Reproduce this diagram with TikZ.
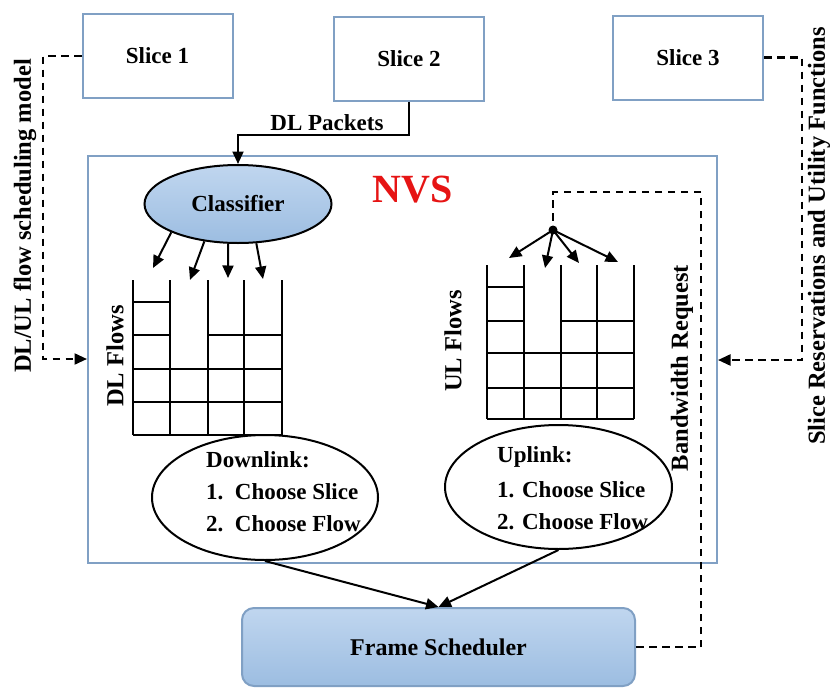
\documentclass[tikz,border=0pt]{standalone}
\usepackage{fontspec}
\setmainfont{Liberation Serif}
\usetikzlibrary{arrows.meta,shapes.geometric}
\definecolor{boxblue}{RGB}{128,160,196}
\definecolor{filltop}{RGB}{192,214,239}
\definecolor{fillbot}{RGB}{156,189,225}
\definecolor{nvsred}{RGB}{230,20,20}
\begin{document}
\begin{tikzpicture}[x=1pt,y=-1pt,
  font=\bfseries\fontsize{23}{27}\selectfont,
  slicebox/.style={draw=boxblue, line width=2pt, minimum width=150pt, minimum height=84pt, inner sep=0pt},
  conn/.style={line width=2pt, black},
  arr/.style={conn, -{Triangle[length=12.5pt,width=11pt]}},
  dashln/.style={line width=2.2pt, dash pattern=on 7.5pt off 5.5pt},
  dasharr/.style={dashln, -{Triangle[length=12.5pt,width=11pt]}},
  gridln/.style={line width=1.3pt},
  bigell/.style={ellipse, draw, line width=2pt, inner sep=0pt},
  itemtxt/.style={anchor=west, inner sep=0pt},
  vlabel/.style={rotate=90, inner sep=0pt, font=\bfseries\fontsize{24.5}{28}\selectfont}
]
\useasboundingbox (0,0) rectangle (830,688);

% slices
\node[slicebox] (s1) at (157.5,56) {Slice 1};
\node[slicebox] (s2) at (409,58.5) {Slice 2};
\node[slicebox] (s3) at (688,57.5) {Slice 3};

% NVS box
\node[draw=boxblue, line width=2pt, minimum width=629pt, minimum height=407pt, inner sep=0pt] (nvs) at (402.5,359.5) {};
\node[text=nvsred, font=\bfseries\fontsize{40}{44}\selectfont, inner sep=0pt] (nvst) at (413,190) {NVS};

% classifier
\node[ellipse, draw, line width=2pt, top color=filltop, bottom color=fillbot, minimum width=187pt, minimum height=78pt, inner sep=0pt] (cls) at (238,204) {Classifier};

% DL packets
\coordinate (dlk) at (238,135);
\draw[arr] (s2.south) |- (dlk) -- (cls.north);
\node[inner sep=0pt] (dlp) at (327,123) {DL Packets};

% classifier arrows
\coordinate (ca1) at (153,268);
\coordinate (ca2) at (190,280);
\coordinate (ca3) at (228,278);
\coordinate (ca4) at (263,279);
\draw[arr] (cls.203) -- (ca1);
\draw[arr] (cls.228) -- (ca2);
\draw[arr] (cls.256) -- (ca3);
\draw[arr] (cls.295) -- (ca4);

% DL grid
\foreach \x in {133,170,208,244,282} \draw[gridln] (\x,280) -- (\x,435);
\draw[gridln] (133,302) -- (170,302);
\draw[gridln] (133,335) -- (170,335);
\draw[gridln] (208,335) -- (282,335);
\foreach \y in {369,402,435} \draw[gridln] (133,\y) -- (282,\y);
\node[vlabel] (dlf) at (115,356) {DL Flows};

% UL grid
\foreach \x in {487,524,561,597,634} \draw[gridln] (\x,265) -- (\x,419);
\draw[gridln] (487,287) -- (524,287);
\draw[gridln] (487,321) -- (524,321);
\draw[gridln] (561,321) -- (634,321);
\foreach \y in {353,388,419} \draw[gridln] (487,\y) -- (634,\y);
\node[vlabel] (ulf) at (453,341) {UL Flows};

% UL dot and arrows
\node[circle, fill=black, inner sep=0pt, minimum size=9pt] (dot) at (553,230) {};
\coordinate (ua1) at (509,258);
\coordinate (ua2) at (545,268);
\coordinate (ua3) at (579,263);
\coordinate (ua4) at (618,262);
\draw[arr] (dot.center) -- (ua1);
\draw[arr] (dot.center) -- (ua2);
\draw[arr] (dot.center) -- (ua3);
\draw[arr] (dot.center) -- (ua4);

% downlink / uplink ellipses
\node[bigell, minimum width=226pt, minimum height=125pt] (dl) at (265,497.5) {};
\node[itemtxt] (dl0) at (206,460) {Downlink:};
\node[itemtxt] (dl1) at (206,492) {1.\ \ Choose Slice};
\node[itemtxt] (dl2) at (206,524) {2.\ \ Choose Flow};

\node[bigell, minimum width=227pt, minimum height=124pt] (ul) at (558.5,487) {};
\node[itemtxt] (ul0) at (497,457) {Uplink:};
\node[itemtxt] (ul1) at (497,490) {1. Choose Slice};
\node[itemtxt] (ul2) at (497,522) {2. Choose Flow};

% frame scheduler
\node[draw=boxblue, line width=2pt, rounded corners=12pt, top color=filltop, bottom color=fillbot, minimum width=393pt, minimum height=78pt, inner sep=0pt, font=\bfseries\fontsize{24}{28}\selectfont] (fs) at (438.5,647) {Frame Scheduler};
\draw[arr] (dl.south) -- (fs.north);
\draw[arr] (ul.south) -- (fs.north);

% dashed side connectors
\coordinate (lc) at (43,359);
\draw[dasharr] (s1.west) -| (lc) -- (nvs.west |- lc);
\node[vlabel] (lt) at (25,216) {DL/UL flow scheduling model};

\coordinate (rc) at (802,360);
\draw[dasharr] (s3.east) -| (rc) -- (nvs.east |- rc);
\node[vlabel] (rt) at (819,236) {Slice Reservations and Utility Functions};

\coordinate (bc) at (701,192);
\draw[dashln] (fs.east) -| (bc) -| (dot.center);
\node[vlabel] (bt) at (682,368) {Bandwidth Request};
\end{tikzpicture}
\end{document}
